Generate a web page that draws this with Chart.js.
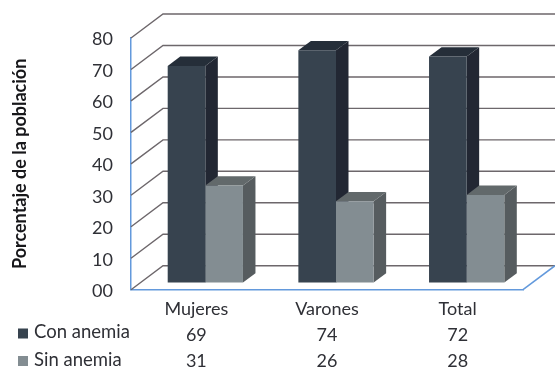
<!DOCTYPE html>
<html lang="es">
<head>
<meta charset="utf-8">
<title>Anemia por sexo</title>
<style>
  html, body { margin: 0; padding: 0; background: #fff; }
  canvas { display: block; }
</style>
<script src="https://cdn.jsdelivr.net/npm/chart.js@4/dist/chart.umd.min.js"></script>
</head>
<body>
<canvas id="chart" width="555" height="369"></canvas>
<script>
const categories = ['Mujeres', 'Varones', 'Total'];
const conAnemia = [69, 74, 72];
const sinAnemia = [31, 26, 28];
const yTickLabels = ['00', '10', '20', '30', '40', '50', '60', '70', '80'];
const yTitle = 'Porcentaje de la población';
const seriesNames = ['Con anemia', 'Sin anemia'];

const TEXT_FONT = 'Lato, "Open Sans", sans-serif';
const TEXT_COLOR = '#2f3036';
const GRID_COLOR = '#6d676b';
const AXIS_COLOR = '#6399dc';

// Colours per series: front face, side face, top face
const faces = [
  { front: '#37434f', side: '#222733', top: '#252e39' },
  { front: '#838d92', side: '#565c5f', top: '#62696b' }
];

// Depth of the box behind the front plane, and of a bar column
const WALL_DX = 32, WALL_DY = -24;
const BAR_SHIFT_X = 9, BAR_SHIFT_Y = -6.7;
const BAR_DX = 12.5, BAR_DY = -9.3;

function polygon(ctx, pts, fill) {
  ctx.fillStyle = fill;
  ctx.beginPath();
  pts.forEach((p, i) => i ? ctx.lineTo(p[0], p[1]) : ctx.moveTo(p[0], p[1]));
  ctx.closePath();
  ctx.fill();
}

const box3d = {
  id: 'box3d',
  // Back wall and floor lines, then the side and top faces of every bar.
  // The library paints the front faces afterwards, inside the same shift.
  beforeDatasetsDraw(chart) {
    const { ctx, chartArea: a, scales: { y } } = chart;
    ctx.save();
    ctx.strokeStyle = GRID_COLOR;
    ctx.lineWidth = 1.4;
    y.ticks.forEach(t => {
      const py = y.getPixelForValue(t.value);
      ctx.beginPath();
      ctx.moveTo(a.left, py);
      ctx.lineTo(a.left + WALL_DX, py + WALL_DY);
      ctx.lineTo(a.right + WALL_DX, py + WALL_DY);
      ctx.stroke();
    });
    ctx.strokeStyle = AXIS_COLOR;
    ctx.lineWidth = 1.5;
    ctx.beginPath();
    ctx.moveTo(a.right, a.bottom);
    ctx.lineTo(a.right + WALL_DX, a.bottom + WALL_DY);
    ctx.stroke();
    ctx.restore();

    ctx.save();
    ctx.translate(BAR_SHIFT_X, BAR_SHIFT_Y);
    chart.data.datasets.forEach((ds, i) => {
      const f = faces[i];
      chart.getDatasetMeta(i).data.forEach(bar => {
        const right = bar.x + bar.width / 2, left = bar.x - bar.width / 2;
        polygon(ctx, [[right, bar.y], [right + BAR_DX, bar.y + BAR_DY],
          [right + BAR_DX, bar.base + BAR_DY], [right, bar.base]], f.side);
        polygon(ctx, [[left, bar.y], [left + BAR_DX, bar.y + BAR_DY],
          [right + BAR_DX, bar.y + BAR_DY], [right, bar.y]], f.top);
      });
    });
  },
  afterDatasetsDraw(chart) {
    const { ctx } = chart;
    ctx.restore();
    // Legend keys of the data table under the axis
    const rows = [333.5, 361];
    chart.data.datasets.forEach((ds, i) => {
      ctx.fillStyle = ds.backgroundColor;
      ctx.fillRect(18, rows[i] - 5, 10, 10);
      ctx.fillStyle = TEXT_COLOR;
      ctx.font = '18.5px ' + TEXT_FONT;
      ctx.textAlign = 'left';
      ctx.textBaseline = 'middle';
      ctx.fillText(ds.label, 34, rows[i] - 1);
    });
  }
};

new Chart(document.getElementById('chart'), {
  type: 'bar',
  data: {
    labels: categories,
    datasets: [
      { label: seriesNames[0], data: conAnemia, backgroundColor: faces[0].front },
      { label: seriesNames[1], data: sinAnemia, backgroundColor: faces[1].front }
    ]
  },
  options: {
    responsive: false,
    animation: false,
    devicePixelRatio: 1,
    layout: { padding: { top: 38, right: 32, left: 0, bottom: 0 } },
    plugins: { legend: { display: false }, title: { display: false }, tooltip: { enabled: false } },
    datasets: { bar: { categoryPercentage: 0.576, barPercentage: 1, clip: false, borderWidth: 0 } },
    scales: {
      x: {
        grid: { display: true, drawOnChartArea: false, drawTicks: false },
        border: { color: AXIS_COLOR, width: 1.5 },
        afterFit(scale) { scale.height = 79.3; },
        ticks: {
          padding: 6,
          maxRotation: 0,
          color: TEXT_COLOR,
          font: { family: TEXT_FONT, size: 18, lineHeight: '26.3px' },
          // Each tick carries its column of the data table
          callback(value, i) { return [categories[i], String(conAnemia[i]), String(sinAnemia[i])]; }
        }
      },
      y: {
        min: 0,
        max: 80,
        grid: { display: true, drawOnChartArea: false, drawTicks: false },
        border: { color: AXIS_COLOR, width: 1.5 },
        afterFit(scale) { scale.width = 131; },
        title: {
          display: true,
          text: yTitle,
          color: '#17171a',
          font: { family: TEXT_FONT, size: 18, weight: 'bold' },
          padding: { top: 9, bottom: 0 }
        },
        ticks: {
          stepSize: 10,
          padding: 18,
          labelOffset: 1.5,
          color: TEXT_COLOR,
          font: { family: TEXT_FONT, size: 18 },
          callback(value) { return yTickLabels[value / 10]; }
        }
      }
    }
  },
  plugins: [box3d]
});
</script>
</body>
</html>
